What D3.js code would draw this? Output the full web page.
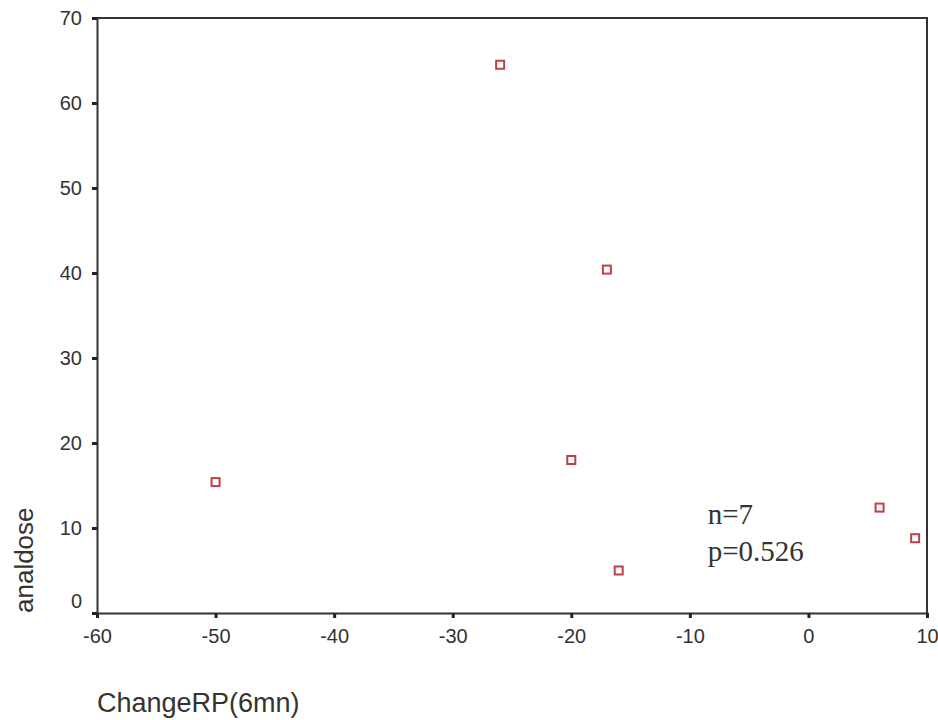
<!DOCTYPE html>
<html>
  <head>
    <meta charset="UTF-8">
    <title>analdose vs ChangeRP(6mn)</title>
    <script src="https://d3js.org/d3.v7.min.js"></script>
    <style>
      body { margin: 0; background: #fff; }
      text { font-family: "Liberation Sans", Arial, sans-serif; fill: #333; }
    </style>
  </head>
  <body>
    <div id="graph"></div>
    <script>

const changeRP = [-26, -17, -20, -50, -16, 6, 9];
const analdose = [64.5, 40.4, 18, 15.4, 5, 12.4, 8.8];
const xTicks = [-60, -50, -40, -30, -20, -10, 0, 10];
const yTicks = [0, 10, 20, 30, 40, 50, 60, 70];
const notes = ["n=7", "p=0.526"];

const svgWidth = 938;
const svgHeight = 720;

const margin = {top: 18, right: 11, bottom: 107, left: 97};
const chartWidth = svgWidth - margin.left - margin.right;
const chartHeight = svgHeight - margin.top - margin.bottom;

const svg = d3.select("#graph")
  .append("svg")
  .attr("width", svgWidth)
  .attr("height", svgHeight);

const chart = svg.append("g")
  .attr("transform", "translate(" + margin.left + "," + margin.top + ")");

const xScale = d3.scaleLinear().domain([-60, 10]).range([0, chartWidth]);
const yScale = d3.scaleLinear().domain([0, 70]).range([chartHeight, 0]);

// frame (top and right)
chart.append("path")
  .attr("d", "M0,0H" + chartWidth + "V" + chartHeight)
  .attr("fill", "none")
  .attr("stroke", "#333")
  .attr("stroke-width", 2);

const xAxis = chart.append("g")
  .attr("transform", "translate(0," + chartHeight + ")")
  .call(d3.axisBottom(xScale).tickValues(xTicks).tickFormat(d => String(d))
    .tickSize(5).tickPadding(11));

const yAxis = chart.append("g")
  .call(d3.axisLeft(yScale).tickValues(yTicks).tickFormat(d => String(d))
    .tickSize(5).tickPadding(10));

[xAxis, yAxis].forEach(ax => {
  ax.select(".domain").attr("stroke", "#333").attr("stroke-width", 2);
  ax.selectAll(".tick line").attr("stroke", "#222").attr("stroke-width", 3);
  ax.selectAll(".tick text")
    .style("font-family", "'Liberation Sans', Arial, sans-serif")
    .style("font-size", "20px")
    .attr("fill", "#333");
});

yAxis.selectAll(".tick text")
  .filter(d => d === 0)
  .attr("dy", "-0.3em");

// points
chart.selectAll(".pt")
  .data(changeRP.map((x, i) => ({x: x, y: analdose[i]})))
  .enter()
  .append("rect")
  .attr("class", "pt")
  .attr("x", d => xScale(d.x) - 4)
  .attr("y", d => yScale(d.y) - 4)
  .attr("width", 8)
  .attr("height", 8)
  .attr("fill", "#fff")
  .attr("stroke", "#c0404a")
  .attr("stroke-width", 2);

// annotation
chart.selectAll(".note")
  .data(notes)
  .enter()
  .append("text")
  .attr("class", "note")
  .attr("x", xScale(-8.5))
  .attr("y", (d, i) => yScale(10.5) + i * 37)
  .style("font-family", "'Liberation Serif', 'Times New Roman', serif")
  .style("font-size", "29px")
  .style("fill", "#333")
  .text(d => d);

// axis titles
svg.append("text")
  .attr("x", 97)
  .attr("y", 712)
  .style("font-size", "27px")
  .text("ChangeRP(6mn)");

svg.append("text")
  .attr("transform", "translate(33,613) rotate(-90)")
  .style("font-size", "26px")
  .text("analdose");

    </script>
  </body>
</html>
